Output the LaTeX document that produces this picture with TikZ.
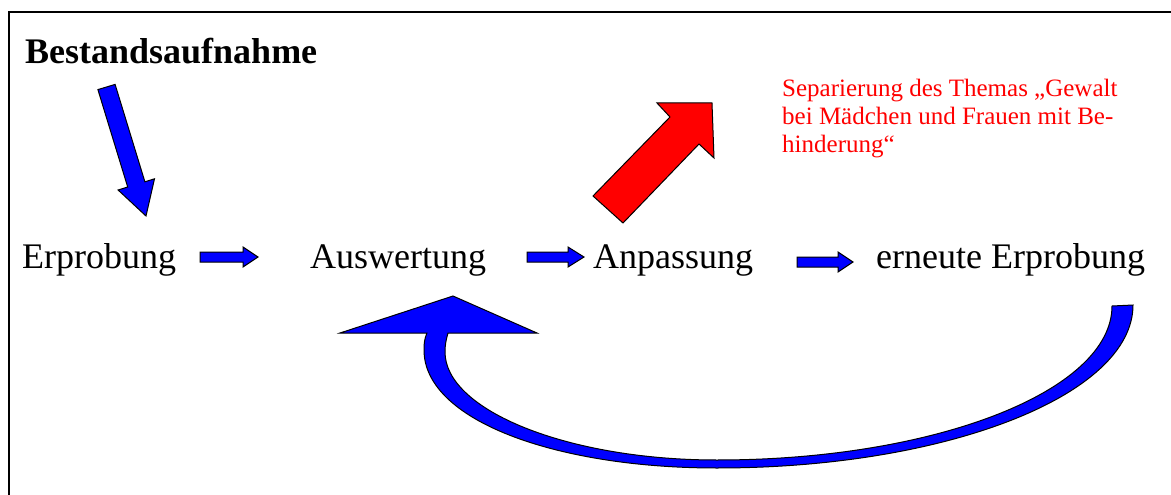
\documentclass[tikz,border=0pt]{standalone}
\usepackage{fontspec}
\setmainfont{Liberation Serif}
\begin{document}
\begin{tikzpicture}[x=1pt,y=-1pt,
  lbl/.style={inner sep=0pt,anchor=base west,font=\fontsize{36}{43}\selectfont},
  bluearrow/.style={draw=black,line width=1pt,fill=blue,line join=miter},
  redarrow/.style={draw=black,line width=1pt,fill=red,line join=miter},
  note/.style={inner sep=0pt,anchor=base west,text=red,font=\fontsize{25}{27.5}\selectfont,align=left}]
\useasboundingbox (0,0) rectangle (1171,495);
\fill[white] (0,0) rectangle (1171,495);
% frame
\draw[line width=2pt] (9,495) -- (9,12) -- (1171,12);
% texts
\node[lbl,font=\fontsize{36}{43}\selectfont\bfseries] (best) at (25,64) {Bestandsaufnahme};
\node[lbl] (erp) at (22,268) {Erprobung};
\node[lbl] (ausw) at (310,268) {Auswertung};
\node[lbl] (anp) at (593,268) {Anpassung};
\node[lbl] (ern) at (876,268) {erneute Erprobung};
\node[note] (sep) at (782,152) {Separierung des Themas „Gewalt\\bei Mädchen und Frauen mit Be-\\hinderung“};
% diagonal arrow from Bestandsaufnahme to Erprobung
\draw[bluearrow] (97.9,89.6) -- (115.1,84.4) -- (144.9,181.8) -- (154.5,178.8) -- (146,216) -- (118.1,190.0) -- (127.7,187.0) -- cycle;
% small block arrows
\draw[bluearrow] (200,252) -- (243,252) -- (243,247) -- (258,257) -- (243,267) -- (243,262) -- (200,262) -- cycle;
\draw[bluearrow] (527,252) -- (568,252) -- (568,247) -- (584,257) -- (568,267) -- (568,262) -- (527,262) -- cycle;
\draw[bluearrow] (797,257) -- (838,257) -- (838,252) -- (853,262) -- (838,272) -- (838,267) -- (797,267) -- cycle;
% red arrow
\draw[redarrow] (593,196) -- (670,117) -- (657,103) -- (712,103) -- (714,158) -- (699,144) -- (623,223) -- cycle;
% curved return arrow
\draw[bluearrow] (427,333) .. controls (424,340) and (424,345) .. (424,350)
  .. controls (424,420) and (555,468) .. (717,468)
  .. controls (947,468) and (1133,395) .. (1133,305)
  -- (1112,306)
  .. controls (1112,391) and (935,460) .. (717,460)
  .. controls (567,460) and (445,410) .. (445,352)
  .. controls (445,345) and (446,340) .. (448,333)
  -- (537,333) -- (453,296) -- (340,333) -- cycle;
\end{tikzpicture}
\end{document}
